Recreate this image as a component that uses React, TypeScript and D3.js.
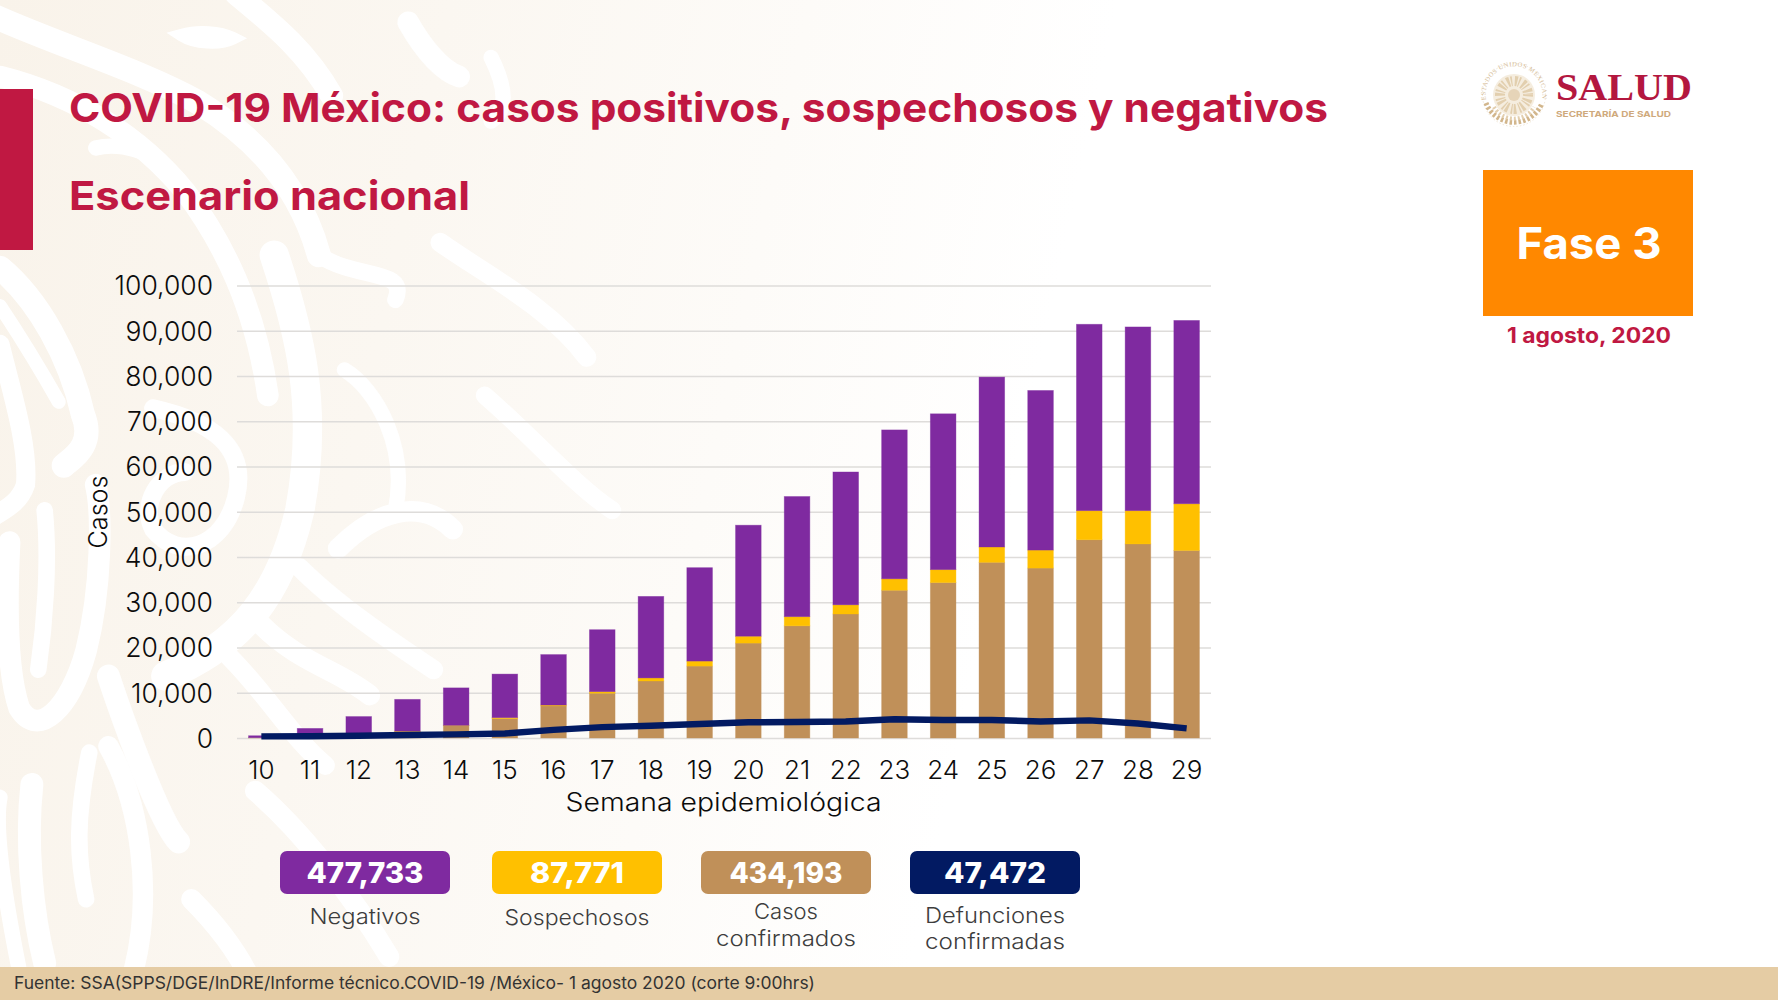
import React, { useEffect, useRef } from "react";
import * as d3 from "d3";

const weeks = ["10","11","12","13","14","15","16","17","18","19","20","21","22","23","24","25","26","27","28","29"];
const confirmados = [80,200,500,1450,2750,4300,7100,9900,12600,15900,20980,24790,27410,32660,34350,38830,37560,43820,42890,41450];
const sospechosos = [0,0,0,70,50,200,180,340,680,1100,1520,2030,2030,2530,2870,3390,3980,6430,7360,10330];
const negativos = [420,1920,4240,7020,8280,9630,11160,13700,18020,20650,24540,26560,29360,32910,34440,37560,35280,41200,40610,40520];
const defunciones = [370,400,500,650,800,1000,1800,2400,2700,3100,3470,3550,3640,4150,3980,3980,3640,3890,3210,2120];
const yTicks = [0,10000,20000,30000,40000,50000,60000,70000,80000,90000,100000];

const CRIMSON = "#C01842";
const PURPLE = "#7F2AA0";
const YELLOW = "#FFC000";
const BROWN = "#C09059";
const NAVY = "#021A62";
const FONT = "Inter, 'Noto Sans', sans-serif";

const legend = [
  { value: "477,733", fill: PURPLE, x: 280, numW: 117, lines: [{ t: "Negativos", y: 924, w: 111 }] },
  { value: "87,771", fill: YELLOW, x: 492, numW: 94, lines: [{ t: "Sospechosos", y: 925, w: 145 }] },
  { value: "434,193", fill: BROWN, x: 701, numW: 113, lines: [{ t: "Casos", y: 919, w: 64 }, { t: "confirmados", y: 946, w: 140 }] },
  { value: "47,472", fill: NAVY, x: 910, numW: 102, lines: [{ t: "Defunciones", y: 923, w: 140 }, { t: "confirmadas", y: 949, w: 140 }] },
];

// decorative background bands (white over beige)
const bands: [string, number][] = [
  ["M-10,25 C90,70 220,110 310,160 C400,215 470,290 500,400", 38],
  ["M370,-10 C430,40 480,80 520,150", 36],
  ["M285,55 C310,48 345,50 365,60 C345,70 305,68 285,55 Z", 20],
  ["M0,120 C120,150 220,215 290,300 C350,380 400,480 420,620", 34],
  ["M150,232 C190,222 240,240 262,262", 24],
  ["M640,35 C660,70 690,110 720,120", 34],
  ["M770,90 C790,130 800,170 770,190", 24],
  ["M430,400 C470,520 500,640 470,800 C440,930 380,1010 260,1060", 46],
  ["M0,420 C60,470 110,560 130,650 C150,700 110,720 100,730", 38],
  ["M0,480 C40,540 75,600 92,630", 22],
  ["M0,540 C20,620 45,700 40,760 C30,790 5,800 -10,810", 30],
  ["M70,800 C78,880 70,980 60,1050", 26],
  ["M15,850 C10,950 10,1050 30,1110 C60,1160 110,1110 135,1020 C160,920 160,800 150,760", 34],
  ["M240,640 C330,660 390,700 370,780 C350,860 280,880 240,830 C220,790 250,740 290,740", 28],
  ["M170,1060 C190,1120 250,1290 280,1320", 36],
  ["M0,1250 C-10,1300 10,1420 30,1520", 24],
  ["M50,1230 C40,1320 50,1430 70,1510", 36],
  ["M140,1180 C120,1280 120,1340 135,1410", 26],
  ["M170,1170 C220,1260 240,1400 210,1520", 32],
  ["M300,1410 C340,1450 370,1490 390,1530", 32],
  ["M360,1030 C420,1090 460,1160 510,1200", 30],
  ["M410,980 C470,1040 530,1050 580,1090", 32],
  ["M500,400 C560,440 640,420 620,470", 26],
  ["M540,580 C590,610 640,700 620,800", 24],
  ["M530,860 C590,800 660,780 710,830", 32],
  ["M470,890 C530,950 620,1010 680,1050", 30],
  ["M690,380 C760,430 860,480 920,560", 30],
  ["M760,620 C830,680 900,760 960,800", 28],
  ["M400,1240 C470,1300 550,1400 610,1500", 32],
];

function T({ x, y, text, size, weight = 400, fill = "#111", anchor = "start", width, rotate }: any) {
  return (
    <text
      x={x}
      y={y}
      fontFamily={FONT}
      fontSize={size}
      fontWeight={weight}
      fill={fill}
      textAnchor={anchor}
      textLength={width}
      lengthAdjust={width ? "spacingAndGlyphs" : undefined}
      transform={rotate ? `rotate(${rotate} ${x} ${y})` : undefined}
    >
      {text}
    </text>
  );
}

function Emblem() {
  const c = "#E0CBA9";
  return (
    <g transform="translate(1514,95)">
      <defs>
        <path id="ringTop" d="M-28,5 A28.5,28.5 0 1 1 28,5" />
      </defs>
      <circle r="31.5" fill="none" stroke={c} strokeWidth="0.8" strokeDasharray="1.5 2" opacity={0.6} />
      <text fontFamily="'Liberation Serif', serif" fontSize="6.6" fill="#D5BC97" letterSpacing="0.5">
        <textPath href="#ringTop">ESTADOS UNIDOS MEXICANOS</textPath>
      </text>
      <circle r="21" fill="#F1E5D2" opacity={0.7} />
      <circle r="14" fill="none" stroke={c} strokeWidth="10" strokeDasharray="1.4 2.6 2.6 1.2" opacity={0.9} />
      <circle r="6" fill="#E0C9A6" opacity={0.7} />
      <path d="M-28,8 A30,30 0 0 0 28,8" fill="none" stroke="#D2B68C" strokeWidth="5" strokeDasharray="2.5 2" />
      <path d="M-20,12 A23,23 0 0 0 20,12" fill="none" stroke="#E3CFAF" strokeWidth="4" strokeDasharray="2 2" />
    </g>
  );
}

export default function App() {
  const gridRef = useRef<SVGGElement>(null);
  const xRef = useRef<SVGGElement>(null);

  const x = d3.scaleBand<string>().domain(weeks).range([237, 1211]).paddingInner(0.474).paddingOuter(0.237);
  const y = d3.scaleLinear().domain([0, 100000]).range([738, 285.6]);

  const rows = weeks.map((w, i) => ({ w, confirmados: confirmados[i], sospechosos: sospechosos[i], negativos: negativos[i] }));
  const stack = d3.stack<any>().keys(["confirmados", "sospechosos", "negativos"])(rows);
  const colors = [BROWN, YELLOW, PURPLE];
  const line = d3
    .line<number>()
    .x((_, i) => x(weeks[i])! + x.bandwidth() / 2)
    .y((d) => y(d));

  useEffect(() => {
    const g = d3.select(gridRef.current!);
    g.call(
      d3.axisLeft(y).tickValues(yTicks).tickSize(-(1211 - 237)).tickPadding(24).tickFormat(d3.format(",") as any) as any
    );
    g.select(".domain").remove();
    g.selectAll(".tick line").attr("stroke", "#DEDCDA").attr("stroke-width", 1.5);
    g.selectAll(".tick text")
      .attr("font-family", FONT)
      .attr("font-size", 26.5)
      .attr("font-weight", 300)
      .attr("fill", "#0c0c0c")
      .attr("dy", "0.35em");

    const gx = d3.select(xRef.current!);
    gx.call(d3.axisBottom(x).tickSize(0).tickPadding(23) as any);
    gx.select(".domain").remove();
    gx.selectAll(".tick text")
      .attr("font-family", FONT)
      .attr("font-size", 26)
      .attr("font-weight", 300)
      .attr("fill", "#0c0c0c");
  }, []);

  return (
    <svg width={1778} height={1000} viewBox="0 0 1778 1000" style={{ position: "absolute", left: 0, top: 0, display: "block" }}>
      <defs>
        <linearGradient id="bg" x1="0" x2="1" y1="0" y2="0.12">
          <stop offset="0" stopColor="#F9F3EA" />
          <stop offset="0.25" stopColor="#FBF7F1" />
          <stop offset="0.45" stopColor="#FDFBF8" />
          <stop offset="0.62" stopColor="#FFFFFF" />
        </linearGradient>
      </defs>
      <rect width={1778} height={1000} fill="url(#bg)" />
      <g transform="scale(0.6378)" fill="none" stroke="#fff" strokeLinecap="round">
        {bands.map(([d, w], i) => (
          <path key={i} d={d} strokeWidth={w} />
        ))}
      </g>

      <rect x={0} y={89} width={33} height={161} fill={CRIMSON} />
      <T x={69} y={122} text="COVID-19 México: casos positivos, sospechosos y negativos" size={40} weight={700} fill={CRIMSON} width={1259} />
      <T x={69} y={210} text="Escenario nacional" size={40} weight={700} fill={CRIMSON} width={401} />

      <Emblem />
      <text x={1556} y={100} fontFamily="'Liberation Serif', serif" fontWeight={700} fontSize={37} fill="#B3173F" textLength={136} lengthAdjust="spacingAndGlyphs">SALUD</text>
      <T x={1556} y={117} text="SECRETARÍA DE SALUD" size={7.6} weight={700} fill="#CFA97C" width={115} />

      <rect x={1483} y={170} width={210} height={146} fill="#FF8800" />
      <T x={1589} y={259} text="Fase 3" size={44} weight={700} fill="#fff" anchor="middle" width={145} />
      <T x={1589} y={343} text="1 agosto, 2020" size={21} weight={700} fill={CRIMSON} anchor="middle" width={164} />

      <g ref={gridRef} transform="translate(237,0)" />
      <g ref={xRef} transform="translate(0,738)" />

      {stack.map((s, si) => (
        <g key={s.key} fill={colors[si]} stroke={colors[si]} strokeOpacity={0.45} strokeWidth={0.8}>
          {s.map((d, i) =>
            d[1] - d[0] > 0 ? (
              <rect key={weeks[i]} x={x(weeks[i])} y={y(d[1])} width={x.bandwidth()} height={y(d[0]) - y(d[1])} />
            ) : null
          )}
        </g>
      ))}
      <path d={line(defunciones)!} fill="none" stroke={NAVY} strokeWidth={6.4} strokeLinejoin="round" />

      <T x={107} y={512} text="Casos" size={25} weight={300} fill="#0c0c0c" anchor="middle" rotate={-90} width={73} />
      <T x={723.5} y={811} text="Semana epidemiológica" size={25.5} weight={300} fill="#0c0c0c" anchor="middle" width={316} />

      {legend.map((l) => (
        <g key={l.value}>
          <rect x={l.x} y={851} width={170} height={43} rx={7} fill={l.fill} />
          <T x={l.x + 85} y={883} text={l.value} size={28} weight={800} fill="#fff" anchor="middle" width={l.numW} />
          {l.lines.map((ln) => (
            <T key={ln.t} x={l.x + 85} y={ln.y} text={ln.t} size={22} weight={300} fill="#3d3d3d" anchor="middle" width={ln.w} />
          ))}
        </g>
      ))}

      <rect x={0} y={967} width={1778} height={33} fill="#E5CCA4" />
      <T x={14} y={989} text="Fuente: SSA(SPPS/DGE/InDRE/Informe técnico.COVID-19 /México- 1 agosto 2020 (corte 9:00hrs)" size={17} fill="#333" width={801} />
    </svg>
  );
}
